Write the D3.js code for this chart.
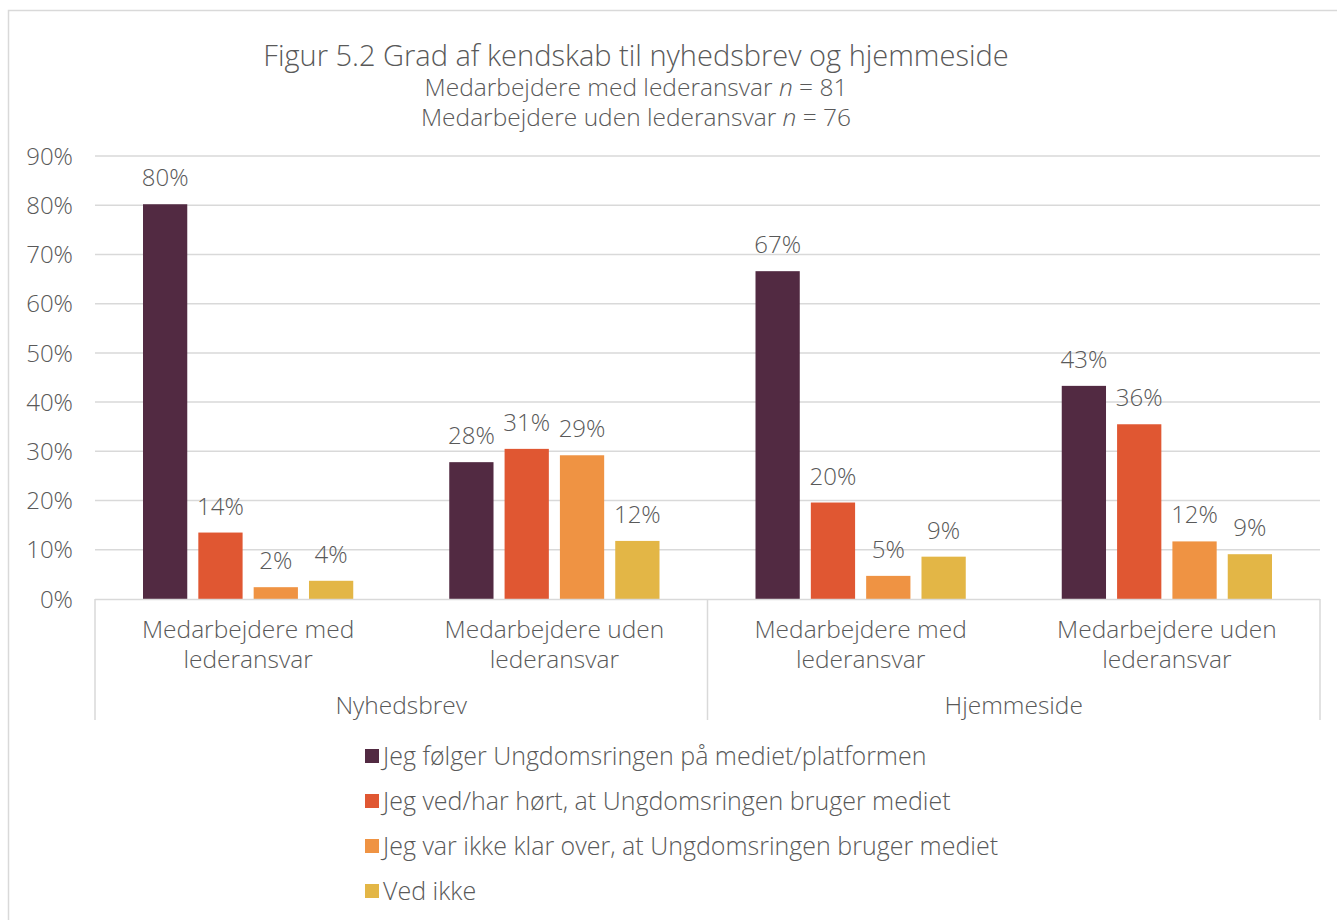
<!DOCTYPE html>
<html>
<head>
<meta charset="utf-8">
<script src="https://cdn.jsdelivr.net/npm/d3@7"></script>
<style>
  body { margin: 0; background: #fff; }
  text { font-family: "Open Sans", Lato, sans-serif; font-weight: 300; fill: #595959; }
</style>
</head>
<body>
<svg></svg>
<script>
// data
var platforms = ['Nyhedsbrev', 'Hjemmeside'];
var roles = [['Medarbejdere med', 'lederansvar'], ['Medarbejdere uden', 'lederansvar']];
var categories = ['Nyhedsbrev|med', 'Nyhedsbrev|uden', 'Hjemmeside|med', 'Hjemmeside|uden'];
var seriesNames = ['Jeg følger Ungdomsringen på mediet/platformen',
                   'Jeg ved/har hørt, at Ungdomsringen bruger mediet',
                   'Jeg var ikke klar over, at Ungdomsringen bruger mediet',
                   'Ved ikke'];
var follow   = [80.2, 27.8, 66.6, 43.3];
var heard    = [13.5, 30.5, 19.6, 35.5];
var unaware  = [2.4, 29.2, 4.7, 11.7];
var dontKnow = [3.7, 11.8, 8.6, 9.1];
var yTicks = [0, 10, 20, 30, 40, 50, 60, 70, 80, 90];
var colors = ['#522a42', '#e05732', '#ef9343', '#e3b646'];

var seriesValues = [follow, heard, unaware, dontKnow];

var w = 1337, h = 920;
var svg = d3.select('svg').attr('width', w).attr('height', h);

// outer frame
svg.append('rect')
   .attr('x', 8.5).attr('y', 10.5)
   .attr('width', 1400).attr('height', 1000)
   .attr('fill', 'none').attr('stroke', '#d9d9d9').attr('stroke-width', 1.5);

var y = d3.scaleLinear().domain([0, 90]).range([599, 156]);
var x0 = d3.scaleBand().domain(categories).range([95, 1320]);
var x1 = d3.scaleBand().domain(d3.range(4))
           .range([48, x0.bandwidth() - 48]).paddingInner(0.2);
var color = d3.scaleOrdinal().domain(d3.range(4)).range(colors);

// grid
svg.append('g').selectAll('line')
   .data(yTicks.slice(1))
   .enter().append('line')
   .attr('x1', 95).attr('x2', 1320)
   .attr('y1', function(d){ return y(d); })
   .attr('y2', function(d){ return y(d); })
   .attr('stroke', '#d9d9d9').attr('stroke-width', 1.5);

// y labels
svg.append('g').selectAll('text')
   .data(yTicks)
   .enter().append('text')
   .attr('x', 73)
   .attr('y', function(d){ return y(d); })
   .attr('dy', '0.36em')
   .attr('text-anchor', 'end')
   .style('font-size', '24px')
   .text(function(d){ return d + '%'; });

// bars
var groups = svg.append('g').selectAll('g')
   .data(categories)
   .enter().append('g')
   .attr('transform', function(d){ return 'translate(' + x0(d) + ',0)'; });

groups.each(function(cat, ci){
  var g = d3.select(this);
  var rows = seriesValues.map(function(vals, si){ return {s: si, v: vals[ci]}; });
  g.selectAll('rect').data(rows).enter().append('rect')
   .attr('x', function(d){ return x1(d.s); })
   .attr('width', x1.bandwidth())
   .attr('y', function(d){ return y(d.v); })
   .attr('height', function(d){ return y(0) - y(d.v); })
   .attr('fill', function(d){ return color(d.s); });
  g.selectAll('text').data(rows).enter().append('text')
   .attr('x', function(d){ return x1(d.s) + x1.bandwidth() / 2; })
   .attr('y', function(d){ return y(d.v) - 18; })
   .attr('text-anchor', 'middle')
   .style('font-size', '24px')
   .text(function(d){ return Math.round(d.v) + '%'; });
});

// category axis
var axis = svg.append('g');
axis.append('line')
    .attr('x1', 95).attr('x2', 1320).attr('y1', 599.5).attr('y2', 599.5)
    .attr('stroke', '#d9d9d9').attr('stroke-width', 1.5);
[95, x0(categories[2]), 1320].forEach(function(xv){
  axis.append('line')
      .attr('x1', xv).attr('x2', xv).attr('y1', 599).attr('y2', 720)
      .attr('stroke', '#d9d9d9').attr('stroke-width', 1.5);
});
categories.forEach(function(c, i){
  var lines = roles[i % 2];
  var t = axis.append('text')
      .attr('x', x0(c) + x0.bandwidth() / 2)
      .attr('y', 638)
      .attr('text-anchor', 'middle')
      .style('font-size', '24.5px');
  lines.forEach(function(l, k){
    t.append('tspan').attr('x', x0(c) + x0.bandwidth() / 2)
     .attr('dy', k === 0 ? 0 : 30).text(l);
  });
});
platforms.forEach(function(p, i){
  axis.append('text')
      .attr('x', x0(categories[i * 2]) + x0.bandwidth())
      .attr('y', 714)
      .attr('text-anchor', 'middle')
      .style('font-size', '24.5px')
      .text(p);
});

// title block (title + two subtitle lines in one text element)
var tx = 636;
var title = svg.append('text').attr('text-anchor', 'middle');
title.append('tspan').attr('x', tx).attr('y', 66)
     .style('font-size', '29px')
     .text('Figur 5.2 Grad af kendskab til nyhedsbrev og hjemmeside');
title.append('tspan').attr('x', tx).attr('y', 96)
     .style('font-size', '24.5px').text('Medarbejdere med lederansvar ');
title.append('tspan').style('font-size', '24.5px').style('font-style', 'italic').text('n');
title.append('tspan').style('font-size', '24.5px').text(' = 81');
title.append('tspan').attr('x', tx).attr('y', 126)
     .style('font-size', '24.5px').text('Medarbejdere uden lederansvar ');
title.append('tspan').style('font-size', '24.5px').style('font-style', 'italic').text('n');
title.append('tspan').style('font-size', '24.5px').text(' = 76');

// legend
var legend = svg.append('g').selectAll('g')
   .data(seriesNames)
   .enter().append('g')
   .attr('transform', function(d, i){ return 'translate(365,' + (756 + i * 45) + ')'; });
legend.append('rect')
   .attr('x', 0).attr('y', -7).attr('width', 14).attr('height', 14)
   .attr('fill', function(d, i){ return color(i); });
legend.append('text')
   .attr('x', 18).attr('y', 0).attr('dy', '0.36em')
   .style('font-size', '25px')
   .text(function(d){ return d; });
</script>
</body>
</html>
